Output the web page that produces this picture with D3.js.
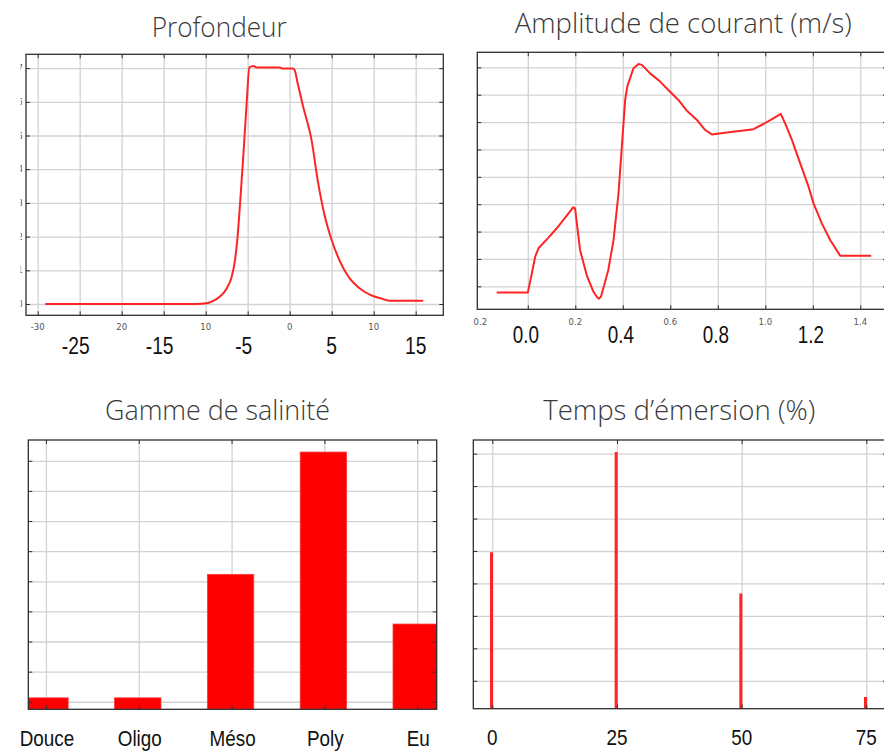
<!DOCTYPE html>
<html><head><meta charset="utf-8">
<script src="https://cdn.jsdelivr.net/npm/d3@7"></script>
<style>body{margin:0;background:#fff}svg{display:block}</style>
</head><body>
<script>
// ---------- DATA ----------
const depthX = [-29.1, -11.1, -9.9, -9.1, -8.3, -7.5, -6.9, -6.5, -6.2, -5.9, -5.5, -5.1, -4.8, -4.3, -3.9, -1.2, -0.9, 0.4, 0.6, 0.95, 1.6, 2.6, 3.4, 4.2, 5.0, 6.0, 7.0, 8.2, 9.6, 10.8, 11.9, 15.9];
const depthY = [0, 0, 0.02, 0.09, 0.22, 0.46, 0.81, 1.31, 2.0, 3.0, 4.47, 6.05, 7.02, 7.06, 7.02, 7.02, 6.99, 6.99, 6.94, 6.55, 5.86, 4.87, 3.58, 2.59, 1.90, 1.26, 0.81, 0.49, 0.27, 0.17, 0.10, 0.10];
const depthGridX = [-30, -25, -20, -15, -10, -5, 0, 5, 10, 15];
const depthGridY = [0, 1, 2, 3, 4, 5, 6, 7];
const depthSmallTicks = [-30, -20, -10, 0, 10];
const depthSmallLabels = ["-30", "20", "10", "0", "10"];
const depthBigTicks = [-25, -15, -5, 5, 15];
const depthBigLabels = ["-25", "-15", "-5", "5", "15"];

const ampX = [-0.131, 0.0, 0.017, 0.031, 0.045, 0.087, 0.122, 0.192, 0.199, 0.220, 0.248, 0.276, 0.292, 0.300, 0.308, 0.318, 0.339, 0.361, 0.382, 0.398, 0.410, 0.419, 0.445, 0.466, 0.480, 0.515, 0.557, 0.599, 0.634, 0.669, 0.712, 0.747, 0.775, 0.838, 0.908, 0.950, 0.992, 1.034, 1.065, 1.083, 1.112, 1.147, 1.182, 1.203, 1.238, 1.273, 1.315, 1.446];
const ampY = [0.77, 0.77, 1.47, 2.08, 2.39, 2.78, 3.12, 3.89, 3.85, 2.33, 1.41, 0.81, 0.6, 0.55, 0.62, 0.93, 1.60, 2.69, 4.40, 6.35, 7.81, 8.30, 8.97, 9.12, 9.09, 8.78, 8.48, 8.11, 7.81, 7.42, 7.08, 6.71, 6.55, 6.62, 6.69, 6.74, 6.93, 7.14, 7.30, 6.96, 6.35, 5.49, 4.64, 4.03, 3.30, 2.69, 2.12, 2.12];
const ampGridX = [0, 0.2, 0.4, 0.6, 0.8, 1.0, 1.2, 1.4];
const ampGridY = [1, 2, 3, 4, 5, 6, 7, 8, 9];
const ampSmallTicks = [-0.2, 0.2, 0.6, 1.0, 1.4];
const ampSmallLabels = ["0.2", "0.2", "0.6", "1.0", "1.4"];
const ampBigTicks = [0.0, 0.4, 0.8, 1.2];
const ampBigLabels = ["0.0", "0.4", "0.8", "1.2"];

const salCategories = ["Douce", "Oligo", "Méso", "Poly", "Eu"];
const salValues = [0.13, 0.13, 4.23, 8.29, 2.58];
const salGridY = [0, 1, 2, 3, 4, 5, 6, 7, 8];

const emerX = [0, 25, 50, 75];
const emerValues = [4.96, 8.05, 3.69, 0.50];
const emerGridY = [1, 2, 3, 4, 5, 6, 7, 8];
const emerLabels = ["0", "25", "50", "75"];

const titles = ["Profondeur", "Amplitude de courant (m/s)", "Gamme de salinité", "Temps d’émersion (%)"];

// ---------- DRAWING ----------
const W = 884, H = 753;
const svg = d3.select("body").append("svg").attr("width", W).attr("height", H);
svg.append("rect").attr("width", W).attr("height", H).attr("fill", "#fff");

const RED = "#ff2424";
const GRID = "#d2d2d2";
const FRAME = "#2e2e2e";

function panel(id, box, xDom, yDom, gx, gy) {
  const x = d3.scaleLinear().domain(xDom).range([box.l, box.r]);
  const y = d3.scaleLinear().domain(yDom).range([box.b, box.t]);
  const g = svg.append("g");
  const h = box.b - box.t, w = box.r - box.l;
  const gX = g.append("g").attr("transform", `translate(0,${box.b})`)
    .call(d3.axisBottom(x).tickValues(gx).tickSize(-h).tickFormat(""));
  const gY = g.append("g").attr("transform", `translate(${box.l},0)`)
    .call(d3.axisLeft(y).tickValues(gy).tickSize(-w).tickFormat(""));
  [gX, gY].forEach(a => {
    a.select(".domain").remove();
    a.selectAll("line").attr("stroke", GRID).attr("stroke-width", 1.3);
  });
  svg.append("clipPath").attr("id", "clip" + id)
    .append("rect").attr("x", box.l).attr("y", box.t).attr("width", w).attr("height", h);
  const plot = g.append("g").attr("clip-path", `url(#clip${id})`);
  const frame = g.append("g");
  const tk = [
    [d3.axisBottom(x).tickValues(gx), `translate(0,${box.b})`],
    [d3.axisTop(x).tickValues(gx), `translate(0,${box.t})`],
    [d3.axisLeft(y).tickValues(gy), `translate(${box.l},0)`],
    [d3.axisRight(y).tickValues(gy), `translate(${box.r},0)`]
  ];
  tk.forEach(([ax, tr]) => {
    const a = frame.append("g").attr("transform", tr).call(ax.tickSize(-4).tickFormat(""));
    a.select(".domain").remove();
    a.selectAll("line").attr("stroke", FRAME).attr("stroke-width", 1);
  });
  frame.append("rect").attr("x", box.l).attr("y", box.t).attr("width", w).attr("height", h)
    .attr("fill", "none").attr("stroke", FRAME).attr("stroke-width", 1.3);
  return {x, y, g, plot, frame};
}

function bigText(xc, yb, txt, size, sx) {
  svg.append("text")
    .attr("transform", `translate(${xc},${yb}) scale(${sx},1)`)
    .attr("text-anchor", "middle")
    .attr("font-family", "'Liberation Sans', Arial, sans-serif")
    .attr("font-size", size).attr("fill", "#111").text(txt);
}
function smallText(xc, yb, txt) {
  svg.append("text").attr("x", xc).attr("y", yb).attr("text-anchor", "middle")
    .attr("font-family", "'DejaVu Sans', sans-serif").attr("font-size", 8.5)
    .attr("fill", "#555").text(txt);
}
function title(xc, yb, txt, len) {
  svg.append("text").attr("x", xc).attr("y", yb).attr("text-anchor", "middle")
    .attr("font-family", "'Open Sans', 'Noto Sans', sans-serif").attr("font-weight", 300)
    .attr("font-size", 28).attr("fill", "#3a3a3a")
    .attr("textLength", len).attr("lengthAdjust", "spacingAndGlyphs").text(txt);
}

// Panel 1: Profondeur
const p1 = panel(1, {l: 26, r: 443.3, t: 54.3, b: 315.3}, [-31.39, 18.29], [-0.335, 7.41], depthGridX, depthGridY);
p1.plot.append("path")
  .datum(depthX.map((v, i) => [v, depthY[i]]))
  .attr("fill", "none").attr("stroke", RED).attr("stroke-width", 2)
  .attr("stroke-linejoin", "round")
  .attr("d", d3.line().x(d => p1.x(d[0])).y(d => p1.y(d[1])).curve(d3.curveMonotoneX));
svg.append("clipPath").attr("id", "sliver").append("rect").attr("x", 20.6).attr("y", 50).attr("width", 1.8).attr("height", 270);
const sl = svg.append("g").attr("clip-path", "url(#sliver)");
depthGridY.forEach(v => {
  sl.append("text").attr("x", 23).attr("y", p1.y(v) + 3).attr("text-anchor", "end")
    .attr("font-family", "'DejaVu Sans', sans-serif").attr("font-size", 8.5).attr("fill", "#444")
    .text(String(v));
});
depthSmallTicks.forEach((v, i) => smallText(p1.x(v), 330, depthSmallLabels[i]));
depthBigTicks.forEach((v, i) => bigText(p1.x(v) - (v < 0 ? 4 : 0), 354, depthBigLabels[i], 24, 0.8));

// Panel 2: Amplitude
const p2 = panel(2, {l: 477.3, r: 887, t: 52.3, b: 309.3}, [-0.2126, 1.5124], [0.16, 9.55], ampGridX, ampGridY);
p2.plot.append("path")
  .datum(ampX.map((v, i) => [v, ampY[i]]))
  .attr("fill", "none").attr("stroke", RED).attr("stroke-width", 2)
  .attr("stroke-linejoin", "round")
  .attr("d", d3.line().x(d => p2.x(d[0])).y(d => p2.y(d[1])));
ampSmallTicks.forEach((v, i) => smallText(p2.x(v), 325, ampSmallLabels[i]));
ampBigTicks.forEach((v, i) => bigText(p2.x(v) - 2, 343, ampBigLabels[i], 23, 0.82));

// Panel 3: Gamme de salinité
const p3 = panel(3, {l: 28.3, r: 436.7, t: 440, b: 709.3}, [-0.19, 4.21], [-0.25, 8.69], d3.range(salCategories.length), salGridY);
const bw = p3.x(0.5) - p3.x(0);
p3.plot.selectAll("rect.bar").data(salValues).join("rect").attr("class", "bar")
  .attr("x", (d, i) => p3.x(i) - bw / 2 - 1)
  .attr("width", bw)
  .attr("y", d => p3.y(d))
  .attr("height", d => p3.y(-0.25) - p3.y(d))
  .attr("fill", "#ff0000").attr("stroke", "#ff3a3a").attr("stroke-width", 0.8);
p3.frame.raise();
salCategories.forEach((c, i) => bigText(p3.x(i) + 1, 746, c, 22.5, 0.84));

// Panel 4: Temps d'émersion
const p4 = panel(4, {l: 473.3, r: 887, t: 440, b: 708.7}, [-3.81, 79.15], [0.14, 8.42], emerX, emerGridY);
p4.plot.selectAll("line.stem").data(emerValues).join("line").attr("class", "stem")
  .attr("x1", (d, i) => p4.x(emerX[i]) - 0.8).attr("x2", (d, i) => p4.x(emerX[i]) - 0.8)
  .attr("y1", p4.y(0.14)).attr("y2", d => p4.y(d))
  .attr("stroke", RED).attr("stroke-width", 3);
p4.frame.raise();
emerX.forEach((v, i) => bigText(p4.x(v), 745, emerLabels[i], 22.5, 0.84));

// Titles
title(219.2, 36.5, titles[0], 135);
title(683.3, 33.3, titles[1], 337);
title(217.5, 420, titles[2], 225);
title(679.2, 420, titles[3], 272);
</script>
</body></html>
